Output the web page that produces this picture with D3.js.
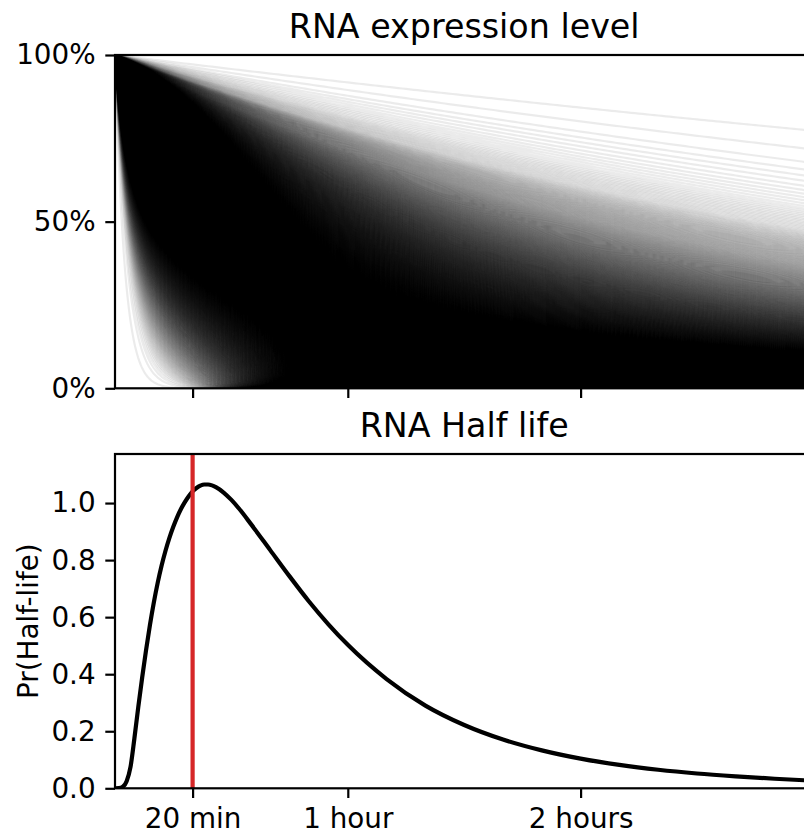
<!DOCTYPE html>
<html>
<head>
<meta charset="utf-8">
<script src="https://cdn.jsdelivr.net/npm/d3@7"></script>
<style>
  html, body { margin: 0; padding: 0; background: #fff; }
  svg { display: block; font-family: "DejaVu Sans", sans-serif; }
</style>
</head>
<body>
<svg id="chart" width="804" height="835"></svg>
<script>
// ---------------- DATA ----------------
// Half-life distribution (bottom panel): half-life in minutes, density (per hour)
const halfLifeMinutes = [0, 1, 2, 3, 4, 5, 6, 7, 8, 9, 10, 11, 12, 13, 14, 15, 16, 17, 18, 19, 20,
  21, 22, 23, 24, 25, 26, 28, 30, 32, 35, 40, 45, 50, 55, 60, 70, 80, 90, 100, 110, 120, 130, 140,
  150, 160, 170, 180, 240, 300, 360, 480, 720, 1200];
const halfLifeDensity = [0, 0.0005, 0.005, 0.025, 0.075, 0.175, 0.285, 0.388, 0.484, 0.572, 0.651, 0.72, 0.78, 0.832, 0.877, 0.916, 0.95, 0.979, 1.003, 1.024, 1.041,
  1.053, 1.061, 1.065, 1.065, 1.062, 1.056, 1.037, 1.011, 0.98, 0.927, 0.835, 0.743, 0.655, 0.575, 0.503, 0.383, 0.29, 0.222, 0.171, 0.133, 0.104, 0.082, 0.065,
  0.052, 0.042, 0.0335, 0.0265, 0.006, 0.002, 0.0009, 0.0002, 0.00003, 0];

const referenceHalfLife = 20;                 // red vertical line (minutes)
const xTickValues = [20, 60, 120];
const xTickLabels = ["20 min", "1 hour", "2 hours"];
const topYTickValues = [0, 0.5, 1];
const topYTickLabels = ["0%", "50%", "100%"];
const bottomYTickValues = [0, 0.2, 0.4, 0.6, 0.8, 1.0];
const bottomYTickLabels = ["0.0", "0.2", "0.4", "0.6", "0.8", "1.0"];
const panelTitles = ["RNA expression level", "RNA Half life"];
const bottomYLabel = "Pr(Half-life)";
const numberOfDecayCurves = 4000;             // decay curves drawn in the top panel

// ---------------- LAYOUT ----------------
const W = 804, H = 835;
const left = 115, right = 813.4;
const top1 = 55, bot1 = 388.3;
const top2 = 454, bot2 = 788.3;
const tickLen = 9.7, tickPad = 9.7, spineW = 2.2;
const tickFont = 27.8, titleFont = 33.3;

const x = d3.scaleLinear().domain([0, 180]).range([left, right]);
const yTop = d3.scaleLinear().domain([0, 1]).range([bot1, top1]);
const yBot = d3.scaleLinear().domain([0, 1.172]).range([bot2, top2]);

const svg = d3.select("#chart");
svg.append("rect").attr("width", W).attr("height", H).attr("fill", "#fff");

const defs = svg.append("defs");
defs.append("clipPath").attr("id", "clipBot")
  .append("rect").attr("x", left).attr("y", top2).attr("width", right - left).attr("height", bot2 - top2);

// ---------------- TOP PANEL: decay curves from half-life quantiles ----------------
const dens = d3.scaleLinear().domain(halfLifeMinutes).range(halfLifeDensity).clamp(true);
const hMax = halfLifeMinutes[halfLifeMinutes.length - 1];
const step = 0.05;
const gridH = [0], cdf = [0];
let acc = 0, prevD = dens(0);
for (let h = step; h <= hMax + 1e-9; h += step) {
  const d = dens(h);
  acc += (prevD + d) / 2 * step;
  prevD = d;
  gridH.push(h); cdf.push(acc);
}
const total = acc;
const bis = d3.bisector(d => d).left;
const halfLives = d3.range(numberOfDecayCurves).map(i => {
  const p = (i + 0.5) / numberOfDecayCurves * total;
  let j = bis(cdf, p);
  if (j <= 0) return gridH[0] + 1e-3;
  const c0 = cdf[j - 1], c1 = cdf[j];
  const f = c1 > c0 ? (p - c0) / (c1 - c0) : 0;
  return Math.max(1e-3, gridH[j - 1] + f * (gridH[j] - gridH[j - 1]));
});

const cw = W - left, ch = Math.round(bot1 - top1);
const canvas = document.createElement("canvas");
canvas.width = cw; canvas.height = ch;
const ctx = canvas.getContext("2d");
ctx.fillStyle = "#fff";
ctx.fillRect(0, 0, cw, ch);
ctx.translate(-left, -top1);
ctx.lineWidth = 2.2;
ctx.lineJoin = "round";
ctx.strokeStyle = "#000";
ctx.globalAlpha = 0.08;
const tSamples = d3.range(0, 10, 0.2).concat(d3.range(10, 180.5, 1));
let curH = 1;
// expression level of each curve: exp(-t / h)
const decayLine = d3.line()
  .x(t => x(t))
  .y(t => yTop(Math.exp(-t / curH)))
  .context(ctx);
for (const h of halfLives) {
  curH = h;
  ctx.beginPath();
  decayLine(tSamples);
  ctx.stroke();
}
svg.append("image")
  .attr("x", left).attr("y", top1)
  .attr("width", cw).attr("height", ch)
  .attr("preserveAspectRatio", "none")
  .attr("href", canvas.toDataURL("image/png"));

// ---------------- BOTTOM PANEL ----------------
const gBot = svg.append("g").attr("clip-path", "url(#clipBot)");
const pts = halfLifeMinutes.map((m, i) => [m, halfLifeDensity[i]]);
gBot.append("path")
  .datum(pts)
  .attr("fill", "none")
  .attr("stroke", "#000")
  .attr("stroke-width", 4.2)
  .attr("stroke-linejoin", "round")
  .attr("d", d3.line().x(d => x(d[0])).y(d => yBot(d[1])).curve(d3.curveMonotoneX));
gBot.append("line")
  .attr("x1", x(referenceHalfLife)).attr("x2", x(referenceHalfLife))
  .attr("y1", top2).attr("y2", bot2)
  .attr("stroke", "#d62728").attr("stroke-width", 4.2);

// ---------------- AXES ----------------
function styleAxis(g) {
  g.select(".domain").remove();
  g.selectAll(".tick line").attr("stroke", "#000").attr("stroke-width", spineW);
  g.selectAll(".tick text").attr("fill", "#000").attr("font-size", tickFont)
    .attr("font-family", "DejaVu Sans, sans-serif");
}
// top panel
svg.append("g").attr("transform", `translate(0,${bot1})`)
  .call(d3.axisBottom(x).tickValues(xTickValues).tickFormat("").tickSize(tickLen))
  .call(styleAxis);
svg.append("g").attr("transform", `translate(${left},0)`)
  .call(d3.axisLeft(yTop).tickValues(topYTickValues).tickFormat((d, i) => topYTickLabels[i]).tickSize(tickLen).tickPadding(tickPad))
  .call(styleAxis);
// bottom panel
const xAxisB = svg.append("g").attr("transform", `translate(0,${bot2})`)
  .call(d3.axisBottom(x).tickValues(xTickValues).tickFormat((d, i) => xTickLabels[i]).tickSize(tickLen).tickPadding(tickPad))
  .call(styleAxis);
xAxisB.selectAll(".tick text").attr("dy", "0.74em");
svg.append("g").attr("transform", `translate(${left},0)`)
  .call(d3.axisLeft(yBot).tickValues(bottomYTickValues).tickFormat((d, i) => bottomYTickLabels[i]).tickSize(tickLen).tickPadding(tickPad))
  .call(styleAxis);

// spines
[[top1, bot1], [top2, bot2]].forEach(([t, b]) => {
  svg.append("rect").attr("x", left).attr("y", t).attr("width", right - left).attr("height", b - t)
    .attr("fill", "none").attr("stroke", "#000").attr("stroke-width", spineW);
});

// titles
svg.append("text").attr("x", (left + right) / 2).attr("y", 38).attr("text-anchor", "middle")
  .attr("font-size", titleFont).attr("fill", "#000").text(panelTitles[0]);
svg.append("text").attr("x", (left + right) / 2).attr("y", 437).attr("text-anchor", "middle")
  .attr("font-size", titleFont).attr("fill", "#000").text(panelTitles[1]);

// y label
svg.append("text")
  .attr("transform", `translate(38,${(top2 + bot2) / 2}) rotate(-90)`)
  .attr("text-anchor", "middle")
  .attr("font-size", tickFont).attr("fill", "#000").text(bottomYLabel);
</script>
</body>
</html>
